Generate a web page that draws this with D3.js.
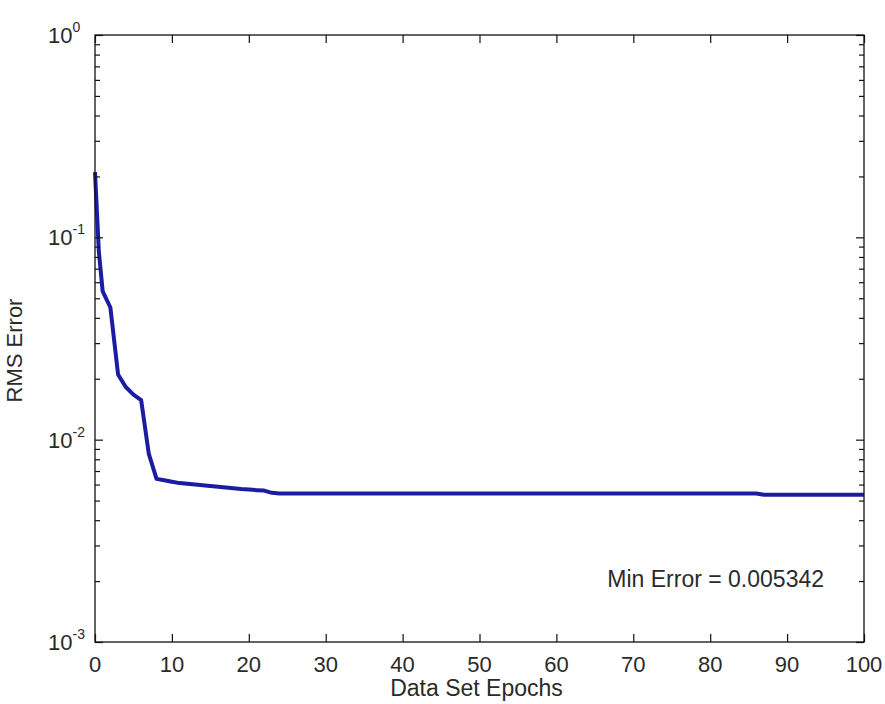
<!DOCTYPE html>
<html>
<head>
<meta charset="utf-8">
<script src="https://cdn.jsdelivr.net/npm/d3@7"></script>
<style>
  body { margin: 0; background: #fff; }
  text { font-family: "Liberation Sans", Arial, sans-serif; fill: #2a2a2a; }
</style>
</head>
<body>
<div id="chart-container"></div>
<script>
// training curve
const epochs = [0, 0.5].concat(d3.range(1, 101));
const rmsError = [
  0.21, 0.085, 0.054, 0.045, 0.021, 0.0182, 0.0167, 0.0157, 0.0085, 0.0064,
  0.0063, 0.0062, 0.0061, 0.00605, 0.006, 0.00595, 0.0059, 0.00585, 0.0058, 0.00575,
  0.0057, 0.00567, 0.00563, 0.0056, 0.00546, 0.00542, 0.00542, 0.00542, 0.00542, 0.00542,
  0.00542, 0.00542, 0.00542, 0.00542, 0.00542, 0.00542, 0.00542, 0.00542, 0.00542, 0.00542,
  0.00542, 0.00542, 0.00542, 0.00542, 0.00542, 0.00542, 0.00542, 0.00542, 0.00542, 0.00542,
  0.00542, 0.00542, 0.00542, 0.00542, 0.00542, 0.00542, 0.00542, 0.00542, 0.00542, 0.00542,
  0.00542, 0.00542, 0.00542, 0.00542, 0.00542, 0.00542, 0.00542, 0.00542, 0.00542, 0.00542,
  0.00542, 0.00542, 0.00542, 0.00542, 0.00542, 0.00542, 0.00542, 0.00542, 0.00542, 0.00542,
  0.00542, 0.00542, 0.00542, 0.00542, 0.00542, 0.00542, 0.00542, 0.00542, 0.005342, 0.005342,
  0.005342, 0.005342, 0.005342, 0.005342, 0.005342, 0.005342, 0.005342, 0.005342, 0.005342, 0.005342,
  0.005342, 0.005342
];
const xTicks = [0, 10, 20, 30, 40, 50, 60, 70, 80, 90, 100];
const yExponents = [0, -1, -2, -3];
const minErrorLabel = "Min Error = 0.005342";

const margin = { top: 35, right: 21, bottom: 62, left: 95 };
const width = 885 - margin.left - margin.right;
const height = 704 - margin.top - margin.bottom;

const svg = d3.select("#chart-container").append("svg")
    .attr("width", width + margin.left + margin.right)
    .attr("height", height + margin.top + margin.bottom)
    .append("g")
    .attr("transform", `translate(${margin.left},${margin.top})`);

const x = d3.scaleLinear().domain([0, 100]).range([0, width]);
const y = d3.scaleLog().domain([1e-3, 1]).range([height, 0]);

const majorY = yExponents.map(e => Math.pow(10, e));
const minorY = [];
[-3, -2, -1].forEach(e => {
    for (let k = 2; k <= 9; k++) minorY.push(k * Math.pow(10, e));
});

// curve
const line = d3.line()
    .x((d, i) => x(epochs[i]))
    .y(d => y(d));

svg.append("path")
    .datum(rmsError)
    .attr("fill", "none")
    .attr("stroke", "#1c1ca2")
    .attr("stroke-width", 4)
    .attr("stroke-linejoin", "round")
    .attr("d", line);

// ticks on all four sides, pointing in
function styleAxis(g) {
    g.select(".domain").remove();
    g.selectAll(".tick line").attr("stroke", "#111").attr("stroke-width", 1.2);
    g.selectAll(".tick text").remove();
}

svg.append("g").attr("transform", `translate(0,${height})`)
    .call(d3.axisBottom(x).tickValues(xTicks).tickSize(-8)).call(styleAxis);
svg.append("g")
    .call(d3.axisTop(x).tickValues(xTicks).tickSize(-8)).call(styleAxis);
svg.append("g")
    .call(d3.axisLeft(y).tickValues(majorY).tickSize(-8)).call(styleAxis);
svg.append("g")
    .call(d3.axisLeft(y).tickValues(minorY).tickSize(-5)).call(styleAxis);
svg.append("g").attr("transform", `translate(${width},0)`)
    .call(d3.axisRight(y).tickValues(majorY).tickSize(-8)).call(styleAxis);
svg.append("g").attr("transform", `translate(${width},0)`)
    .call(d3.axisRight(y).tickValues(minorY).tickSize(-5)).call(styleAxis);

svg.append("rect")
    .attr("width", width)
    .attr("height", height)
    .attr("fill", "none")
    .attr("stroke", "#111")
    .attr("stroke-width", 1.3);

// x tick labels
svg.selectAll(".xlab")
    .data(xTicks)
    .enter().append("text")
    .attr("class", "xlab")
    .attr("x", d => x(d))
    .attr("y", height + 30)
    .attr("text-anchor", "middle")
    .style("font-size", "22px")
    .text(d => d);

// y tick labels as 10^n
const ylab = svg.selectAll(".ylab")
    .data(yExponents)
    .enter().append("text")
    .attr("class", "ylab")
    .attr("x", -47)
    .attr("y", d => y(Math.pow(10, d)) + 8)
    .style("font-size", "22px");
ylab.append("tspan").text("10");
ylab.append("tspan")
    .attr("dy", -11)
    .style("font-size", "14px")
    .text(d => d === 0 ? "0" : "-" + Math.abs(d));

svg.append("text")
    .attr("x", width / 2 - 3)
    .attr("y", height + 54)
    .attr("text-anchor", "middle")
    .style("font-size", "23px")
    .text("Data Set Epochs");

svg.append("text")
    .attr("transform", `translate(-73,${height / 2 + 12}) rotate(-90)`)
    .attr("text-anchor", "middle")
    .style("font-size", "22px")
    .text("RMS Error");

svg.append("text")
    .attr("x", width - 40)
    .attr("y", height - 55)
    .attr("text-anchor", "end")
    .style("font-size", "23px")
    .text(minErrorLabel);
</script>
</body>
</html>
